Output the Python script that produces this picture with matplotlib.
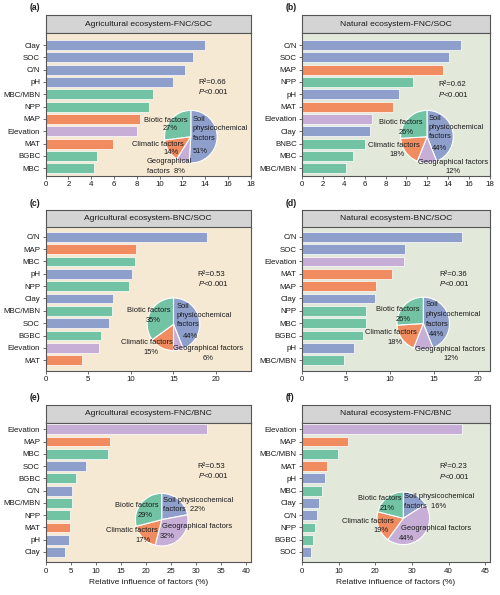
import matplotlib
matplotlib.use('Agg')
import matplotlib.pyplot as plt

plt.rcParams['font.family'] = ['Liberation Sans', 'DejaVu Sans']
plt.rcParams['mathtext.fontset'] = 'custom'
plt.rcParams['mathtext.rm'] = 'Liberation Sans'
plt.rcParams['mathtext.it'] = 'Liberation Sans:italic'

W, H = 500, 595

# colours by factor group: S soil, B biotic, C climatic, G geographical
colors = {'S': '#8E9FCC', 'B': '#72C3A3', 'C': '#F08C60', 'G': '#C6AED6'}
AGRI_BG = '#F6E9D3'
NAT_BG = '#E3E9DA'

# ---- data ----
a_factors = ['Clay', 'SOC', 'C/N', 'pH', 'MBC/MBN', 'NPP', 'MAP', 'Elevation', 'MAT', 'BGBC', 'MBC']
a_values = [14.0, 12.9, 12.2, 11.2, 9.4, 9.1, 8.3, 8.0, 5.9, 4.5, 4.2]
a_groups = ['S', 'S', 'S', 'S', 'B', 'B', 'C', 'G', 'C', 'B', 'B']

b_factors = ['C/N', 'SOC', 'MAP', 'NPP', 'pH', 'MAT', 'Elevation', 'Clay', 'BNBC', 'MBC', 'MBC/MBN']
b_values = [15.3, 14.1, 13.5, 10.6, 9.3, 8.7, 6.7, 6.5, 6.0, 4.9, 4.2]
b_groups = ['S', 'S', 'C', 'B', 'S', 'C', 'G', 'S', 'B', 'B', 'B']

c_factors = ['C/N', 'MAP', 'MBC', 'pH', 'NPP', 'Clay', 'MBC/MBN', 'SOC', 'BGBC', 'Elevation', 'MAT']
c_values = [18.9, 10.6, 10.5, 10.1, 9.8, 7.9, 7.8, 7.4, 6.5, 6.3, 4.3]
c_groups = ['S', 'C', 'B', 'S', 'B', 'S', 'B', 'S', 'B', 'G', 'C']

d_factors = ['C/N', 'SOC', 'Elevation', 'MAT', 'MAP', 'Clay', 'NPP', 'MBC', 'BGBC', 'pH', 'MBC/MBN']
d_values = [18.2, 11.7, 11.6, 10.2, 8.4, 8.3, 7.3, 7.2, 6.9, 5.9, 4.8]
d_groups = ['S', 'S', 'G', 'C', 'C', 'S', 'B', 'B', 'B', 'S', 'B']

e_factors = ['Elevation', 'MAP', 'MBC', 'SOC', 'BGBC', 'C/N', 'MBC/MBN', 'NPP', 'MAT', 'pH', 'Clay']
e_values = [32.1, 12.8, 12.5, 8.1, 6.0, 5.3, 5.3, 4.9, 4.8, 4.6, 3.9]
e_groups = ['G', 'C', 'B', 'S', 'B', 'S', 'B', 'B', 'C', 'S', 'S']

f_factors = ['Elevation', 'MAP', 'MBC/MBN', 'MAT', 'pH', 'MBC', 'Clay', 'C/N', 'NPP', 'BGBC', 'SOC']
f_values = [43.8, 12.5, 9.8, 6.8, 6.1, 5.5, 4.6, 4.1, 3.4, 2.9, 2.5]
f_groups = ['G', 'C', 'B', 'C', 'S', 'B', 'S', 'S', 'B', 'B', 'S']

# pie shares: soil, geographical, climatic, biotic
pie_order = ['S', 'G', 'C', 'B']
a_pie = [51, 8, 14, 27]
b_pie = [44, 12, 18, 26]
c_pie = [44, 6, 15, 35]
d_pie = [44, 12, 18, 26]
e_pie = [22, 32, 17, 29]
f_pie = [16, 44, 19, 21]

r2_values = ['0.66', '0.62', '0.53', '0.36', '0.53', '0.23']

# x tick labels as printed on each panel
a_ticks = ['0', '2', '4', '6', '8', '10', '12', '14', '16', '18']
c_ticks = ['0', '5', '10', '15', '20']
e_ticks = ['0', '5', '10', '15', '20', '25', '30', '35', '40']
f_ticks = ['0', '10', '20', '30', '40', '45']

# ---- layout (pixels from top-left) ----
cols = [(45.7, 250.8), (302.3, 489.5)]
rows = [(15, 33.3, 175.7, 10.6, -0.95), (210, 227.5, 370.7, 10.85, -0.75), (404.5, 422.5, 562.3, 10.84, -0.55)]


def frac(x0, y0, x1, y1):
    return [x0 / W, 1 - y1 / H, (x1 - x0) / W, (y1 - y0) / H]


def ftext(x, y, s, ha='center', size=5.4, **kw):
    fig.text(x / W, 1 - y / H, s, ha=ha, va='center', fontsize=size, color='#1a1a1a', **kw)


panels = [
    ('(a)', 'Agricultural ecosystem-FNC/SOC', a_factors, a_values, a_groups, a_pie, 0, 0, 18, 2, a_ticks),
    ('(b)', 'Natural ecosystem-FNC/SOC', b_factors, b_values, b_groups, b_pie, 1, 0, 18, 2, a_ticks),
    ('(c)', 'Agricultural ecosystem-BNC/SOC', c_factors, c_values, c_groups, c_pie, 0, 1, 24.1, 5, c_ticks),
    ('(d)', 'Natural ecosystem-BNC/SOC', d_factors, d_values, d_groups, d_pie, 1, 1, 21.3, 5, c_ticks),
    ('(e)', 'Agricultural ecosystem-FNC/BNC', e_factors, e_values, e_groups, e_pie, 0, 2, 40.9, 5, e_ticks),
    ('(f)', 'Natural ecosystem-FNC/BNC', f_factors, f_values, f_groups, f_pie, 1, 2, 51.2, 10, f_ticks),
]

# pie centres and label lines (x, y, text, ha); {0}..{3} = soil, geo, clim, bio
pie_centres = [(190.8, 136.7), (427.0, 136.7), (173.5, 324.3), (423.3, 323.5), (161.7, 519.7), (403.3, 518.3)]
r2_pos = [(198, 82), (438.3, 85), (197.7, 274.3), (439, 274.3), (197.7, 466), (439, 466.7)]
pie_labels = [
    [(165.5, 121, 'Biotic factors', 'center'), (170.5, 128.5, '{3}%', 'center'),
     (193, 119.3, 'Soil', 'left'), (193, 128.7, 'physicochemical', 'left'), (193, 138, 'factors', 'left'),
     (192.5, 151.5, '{0}%', 'left'),
     (158, 144, 'Climatic factors', 'center'), (171, 152.3, '{2}%', 'center'),
     (146.7, 162, 'Geographical', 'left'), (146.7, 171.7, 'factors  {1}%', 'left')],
    [(401, 122.3, 'Biotic factors', 'center'), (405.8, 132, '{3}%', 'center'),
     (429, 118.3, 'Soil', 'left'), (429, 127.7, 'physicochemical', 'left'), (429, 136.7, 'factors', 'left'),
     (432.3, 148.3, '{0}%', 'left'),
     (393.8, 145.3, 'Climatic factors', 'center'), (397.5, 154.3, '{2}%', 'center'),
     (452.7, 162.7, 'Geographical factors', 'center'), (452.5, 171.3, '{1}%', 'center')],
    [(148.8, 310.7, 'Biotic factors', 'center'), (152.8, 321, '{3}%', 'center'),
     (176.7, 306.7, 'Soil', 'left'), (176.7, 315.7, 'physicochemical', 'left'), (176.7, 324.3, 'factors', 'left'),
     (182.7, 336, '{0}%', 'left'),
     (146.7, 342.7, 'Climatic factors', 'center'), (151, 352.3, '{2}%', 'center'),
     (208.3, 349, 'Geographical factors', 'center'), (208.2, 359, '{1}%', 'center')],
    [(398, 309.3, 'Biotic factors', 'center'), (402.8, 319.3, '{3}%', 'center'),
     (425.7, 305, 'Soil', 'left'), (425.7, 315, 'physicochemical', 'left'), (425.7, 324, 'factors', 'left'),
     (429, 335, '{0}%', 'left'),
     (390.8, 332.3, 'Climatic factors', 'center'), (395.5, 342.3, '{2}%', 'center'),
     (450.3, 349.3, 'Geographical factors', 'center'), (450.5, 358.3, '{1}%', 'center')],
    [(136.7, 505.7, 'Biotic factors', 'center'), (145.3, 515.7, '{3}%', 'center'),
     (163.3, 500, 'Soil physicochemical', 'left'), (163.3, 509.3, 'factors  {0}%', 'left'),
     (131.7, 531, 'Climatic factors', 'center'), (143.3, 540, '{2}%', 'center'),
     (162.3, 526, 'Geographical factors', 'left'), (159.3, 536.7, '{1}%', 'left')],
    [(380, 498.3, 'Biotic factors', 'center'), (387.2, 508.3, '{3}%', 'center'),
     (404, 496.7, 'Soil physicochemical', 'left'), (404, 506, 'factors  {0}%', 'left'),
     (367.8, 521.7, 'Climatic factors', 'center'), (380.5, 531, '{2}%', 'center'),
     (400.7, 528.3, 'Geographical factors', 'left'), (399, 538.3, '{1}%', 'left')],
]

fig = plt.figure(figsize=(W / 100, H / 100), dpi=100)
edge = '#555555'

for i, (tag, title, factors, values, groups, pie, col, row, xmax, step, ticklabels) in enumerate(panels):
    x0, x1 = cols[col]
    htop, hbot, abot, ybot, ytop = rows[row]
    bg = AGRI_BG if col == 0 else NAT_BG

    # header strip
    hax = fig.add_axes(frac(x0, htop, x1, hbot))
    hax.set_facecolor('#D4D4D4')
    hax.set_xticks([])
    hax.set_yticks([])
    for s in hax.spines.values():
        s.set_color(edge)
        s.set_linewidth(0.8)
    hax.text(0.5, 0.5, title, ha='center', va='center', fontsize=6.1,
             color='#1a1a1a', transform=hax.transAxes)

    # bar chart
    ax = fig.add_axes(frac(x0, hbot, x1, abot))
    ax.set_facecolor(bg)
    ypos = list(range(len(factors)))
    ax.barh(ypos, values, height=0.8, color=[colors[g] for g in groups],
            edgecolor='white', linewidth=0.5)
    ax.set_ylim(ybot, ytop)
    ax.set_xlim(0, xmax)
    ax.set_yticks(ypos)
    ax.set_yticklabels(factors)
    ax.set_xticks([k * step for k in range(len(ticklabels))])
    ax.set_xticklabels(ticklabels)
    ax.tick_params(axis='both', labelsize=5.7, length=2.5, width=0.6, pad=1.5,
                   color=edge, labelcolor='#1a1a1a')
    for s in ax.spines.values():
        s.set_color(edge)
        s.set_linewidth(0.8)
    if row == 2:
        ax.set_xlabel('Relative influence of factors (%)', fontsize=6.0, labelpad=3, color='#1a1a1a')

    # panel tag
    ftext(x0 - 16.5, htop - 7, tag, ha='left', size=6.2, fontweight='bold')

    # R2 and P
    rx, ry = r2_pos[i]
    ftext(rx, ry, 'R²=' + r2_values[i], ha='left', size=5.6)
    ftext(rx, ry + 9.5, r'$\it{P}$<0.001', ha='left', size=5.6)

    # pie
    cx, cy = pie_centres[i]
    rad = 26.3
    pax = fig.add_axes(frac(cx - rad, cy - rad, cx + rad, cy + rad))
    pax.pie(pie, colors=[colors[g] for g in pie_order], startangle=90, counterclock=False,
            radius=1, wedgeprops=dict(edgecolor='white', linewidth=0.8))
    pax.set_xlim(-1, 1)
    pax.set_ylim(-1, 1)
    pax.set_aspect('equal')
    pax.axis('off')
    for (lx, ly, txt, ha) in pie_labels[i]:
        ftext(lx, ly, txt.format(*pie), ha=ha, size=5.4)

fig.savefig('out.png', dpi=100)
